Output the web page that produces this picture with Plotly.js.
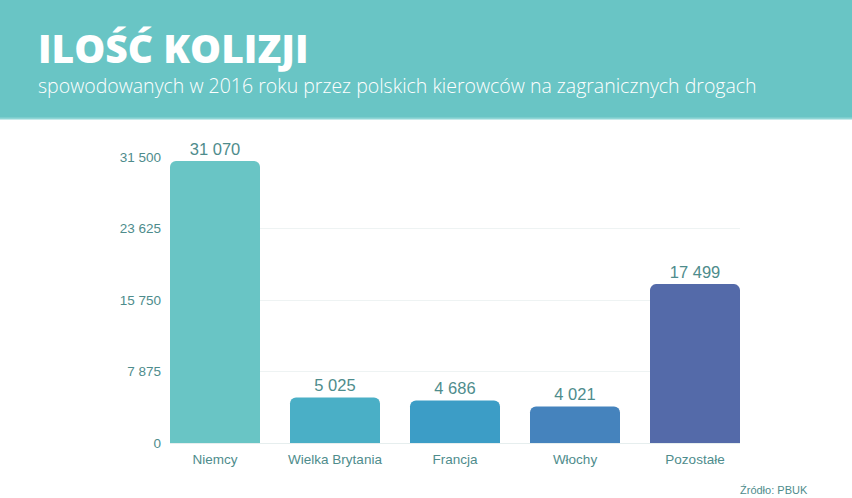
<!DOCTYPE html>
<html><head><meta charset="utf-8">
<script src="https://cdn.plot.ly/plotly-3.0.1.min.js"></script>
<style>html,body{margin:0;padding:0;background:#fff}#c{width:852px;height:498px}</style>
</head><body><div id="c"></div>
<script>
const categories = ["Niemcy", "Wielka Brytania", "Francja", "Włochy", "Pozostałe"];
const values = [31070, 5025, 4686, 4021, 17499];
const valueLabels = ["31 070", "5 025", "4 686", "4 021", "17 499"];
const barColors = ["#69C5C5", "#4AAFC6", "#3C9DC6", "#4583BD", "#546AA9"];
const tickVals = [0, 7875, 15750, 23625, 31500];
const tickText = ["0", "7 875", "15 750", "23 625", "31 500"];

const H = 498, T = 157, B = 55;
const plotH = H - T - B;
function py(px){ return (H - B - px) / plotH; }

const trace = {
  type: "bar", x: categories, y: values,
  text: valueLabels, textposition: "outside", cliponaxis: false,
  textfont: {family: "Liberation Sans, Arial, sans-serif", size: 16.5, color: "#4E8C8C"},
  marker: {color: barColors, cornerradius: 6},
  hoverinfo: "none"
};
const layout = {
  width: 852, height: 498,
  margin: {l: 170, r: 112, t: T, b: B},
  paper_bgcolor: "#fff", plot_bgcolor: "#fff",
  bargap: 0.25, showlegend: false,
  font: {family: "Liberation Sans, Arial, sans-serif"},
  xaxis: {range: [-0.375, 4.375], showgrid: false, zeroline: false, showline: false, ticks: "",
    ticklabelstandoff: 6, tickfont: {size: 13.5, color: "#4E8C8C"}, fixedrange: true},
  yaxis: {range: [0, 31500], tickvals: tickVals, ticktext: tickText, showgrid: true,
    gridcolor: "#EEF3F3", gridwidth: 1, zeroline: true, zerolinecolor: "#E6EEEE", showline: false,
    ticks: "", ticklabelstandoff: 8, tickfont: {size: 13.5, color: "#4E8C8C"}, fixedrange: true},
  shapes: [
    {type: "rect", xref: "paper", yref: "paper", x0: -170/570, x1: (852-170)/570,
     y0: py(119), y1: py(0), fillcolor: "#69C5C5", line: {width: 0}, layer: "below"},
    {type: "line", xref: "paper", yref: "paper", x0: -170/570, x1: (852-170)/570,
     y0: py(118.5), y1: py(118.5), line: {color: "#8FD6D6", width: 2}}
  ],
  annotations: [
    {xref: "paper", yref: "paper", x: (36-170)/570, y: py(47), xanchor: "left", yanchor: "middle",
     text: "ILOŚĆ KOLIZJI", showarrow: false,
     font: {family: "Open Sans, sans-serif", size: 39, color: "#fff", weight: 800}},
    {xref: "paper", yref: "paper", x: (36-170)/570, y: py(86), xanchor: "left", yanchor: "middle",
     text: "spowodowanych w 2016 roku przez polskich kierowców na zagranicznych drogach", showarrow: false,
     font: {family: "Open Sans, sans-serif", size: 19.5, color: "#fff", weight: 300}},
    {xref: "paper", yref: "paper", x: (810-170)/570, y: py(490), xanchor: "right", yanchor: "middle",
     text: "Źródło: PBUK", showarrow: false,
     font: {family: "Liberation Sans, Arial, sans-serif", size: 11, color: "#4E8C8C"}}
  ]
};
Plotly.newPlot("c", [trace], layout, {displayModeBar: false, staticPlot: true});
</script></body></html>
